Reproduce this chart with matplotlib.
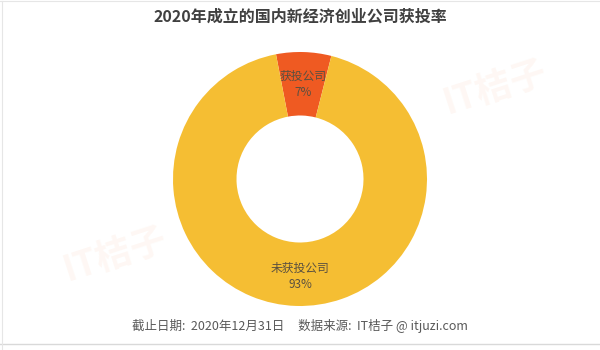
import matplotlib
matplotlib.use("Agg")
import matplotlib.pyplot as plt

plt.rcParams['font.family'] = ['Noto Sans CJK SC', 'DejaVu Sans']

categories = ["获投公司", "未获投公司"]
values = [7, 93]
pct_labels = ["7%", "93%"]
colors = ["#EF5A22", "#F5BE33"]
title = "2020年成立的国内新经济创业公司获投率"
footer = "截止日期:  2020年12月31日     数据来源:  IT桔子 @ itjuzi.com"

fig = plt.figure(figsize=(6, 3.5), dpi=100)
ax = fig.add_axes([0, 0, 1, 1])

# watermarks
for (x, y) in [(115, 95), (495, 262)]:
    ax.text(x, y, "IT桔子", fontsize=26, color="#F4A070", alpha=0.08,
            rotation=18, ha='center', va='center', fontweight='bold')

R = 127
wedges, _ = ax.pie(values, colors=colors, radius=R, center=(300, 350 - 179),
                   startangle=90 + 10.9, counterclock=False,
                   wedgeprops=dict(width=R * 0.5, edgecolor='none'),
                   frame=True)
ax.set_xlim(0, 600)
ax.set_ylim(0, 350)
ax.set_aspect('auto')
ax.axis('off')

lab_pos = [(303, 350 - 76), (300, 350 - 268)]
for (x, y), c, p in zip(lab_pos, categories, pct_labels):
    ax.text(x, y, c, ha='center', va='center', fontsize=8.5, color="#5A5040")
    ax.text(x, y - 16, p, ha='center', va='center', fontsize=8.5, color="#5A5040")

fig.text(0.5, 1 - 17 / 350, title, ha='center', va='center', fontsize=11.5,
         fontweight='bold', color="#404040")
fig.text(0.5, 1 - 326 / 350, footer, ha='center', va='center', fontsize=9,
         color="#595959")

# bottom rule and frame
ax.plot([0, 600], [350 - 344, 350 - 344], color="#D9D9D9", lw=1)
ax.plot([2, 2], [0, 349], color="#E6E6E6", lw=0.8)
ax.plot([0, 600], [349, 349], color="#E6E6E6", lw=0.8)

fig.savefig("out.png", dpi=100)
